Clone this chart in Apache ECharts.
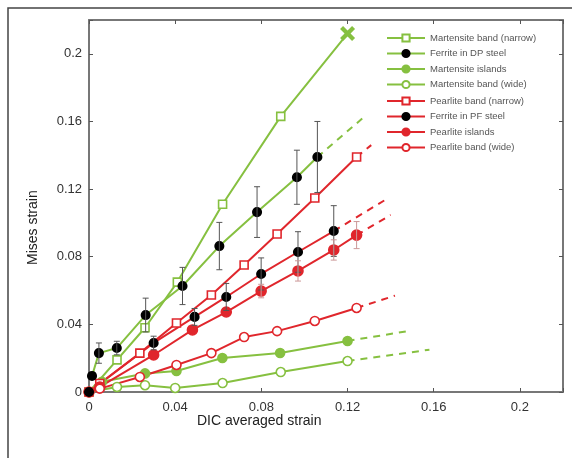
<!DOCTYPE html>
<html><head><meta charset="utf-8">
<script src="https://cdn.jsdelivr.net/npm/echarts@6/dist/echarts.min.js"></script>
<style>html,body{margin:0;padding:0;background:#fff}#c{width:572px;height:458px}</style>
</head><body><div id="c"></div>
<script>
// ---- data ----
const xTicks = [0, 0.04, 0.08, 0.12, 0.16, 0.2];
const yTicks = [0, 0.04, 0.08, 0.12, 0.16, 0.2];

const mbNarrowX = [0, 0.013, 0.026, 0.041, 0.062, 0.089, 0.12];
const mbNarrowY = [0, 0.019, 0.038, 0.065, 0.111, 0.163, 0.212];

const dpX = [0.0014, 0.0046, 0.0129, 0.0263, 0.0434, 0.0605, 0.078, 0.0965, 0.106];
const dpY = [0.0095, 0.023, 0.026, 0.0455, 0.0627, 0.0863, 0.1064, 0.127, 0.139];
const dpErr = [0, 0.006, 0.004, 0.010, 0.011, 0.014, 0.015, 0.016, 0.021];
const dpDash = [[0.106, 0.139], [0.128, 0.163]];

const miX = [0, 0.006, 0.026, 0.0406, 0.0619, 0.0887, 0.12];
const miY = [0, 0.006, 0.011, 0.0124, 0.0201, 0.0231, 0.0302];
const miDash = [[0.12, 0.0302], [0.148, 0.036]];

const mwX = [0, 0.013, 0.026, 0.040, 0.062, 0.089, 0.12];
const mwY = [0, 0.003, 0.004, 0.0024, 0.0053, 0.0118, 0.0183];
const mwDash = [[0.12, 0.0183], [0.158, 0.025]];

const pnX = [0, 0.005, 0.0236, 0.0406, 0.0568, 0.072, 0.0873, 0.1048, 0.1242];
const pnY = [0, 0.005, 0.023, 0.0408, 0.0574, 0.0751, 0.0934, 0.1147, 0.139];
const pnDash = [[0.1242, 0.139], [0.131, 0.146]];

const pfX = [0, 0.030, 0.049, 0.0637, 0.0799, 0.097, 0.1136];
const pfY = [0, 0.029, 0.0444, 0.0562, 0.0698, 0.0828, 0.0952];
const pfErr = [0, 0.004, 0.005, 0.008, 0.0095, 0.012, 0.015];
const pfDash = [[0.1136, 0.0952], [0.138, 0.114]];

const piX = [0, 0.005, 0.030, 0.048, 0.0637, 0.0799, 0.097, 0.1136, 0.1242];
const piY = [0, 0.003, 0.0219, 0.0367, 0.0473, 0.0597, 0.0716, 0.084, 0.0928];
const piErr = [0, 0, 0, 0, 0, 0.004, 0.006, 0.006, 0.008];
const piDash = [[0.1242, 0.0928], [0.140, 0.1047]];

const pwX = [0, 0.005, 0.0236, 0.0406, 0.0568, 0.072, 0.0873, 0.1048, 0.1242];
const pwY = [0, 0.002, 0.0089, 0.016, 0.023, 0.0325, 0.036, 0.042, 0.0497];
const pwDash = [[0.1242, 0.0497], [0.142, 0.057]];

const names = ['Martensite band (narrow)', 'Ferrite in DP steel', 'Martensite islands', 'Martensite band (wide)',
  'Pearlite band (narrow)', 'Ferrite in PF steel', 'Pearlite islands', 'Pearlite band (wide)'];

// ---- styles ----
const G = '#86c040', R = '#e0262c';
const FONT = 'Liberation Sans, Arial, sans-serif';
const zip = (xs, ys) => xs.map((x, i) => [x, ys[i]]);
const zip3 = (xs, ys, es) => xs.map((x, i) => [x, ys[i], es[i]]);
const X_PATH = 'path://M0,2 L2,0 L5,3 L8,0 L10,2 L7,5 L10,8 L8,10 L5,7 L2,10 L0,8 L3,5 Z';

function lineSeries(name, data, color, symbol, fill, size) {
  return {
    name, type: 'line', data, symbol, symbolSize: size, showSymbol: true,
    lineStyle: { color, width: 2 },
    itemStyle: { color: fill, borderColor: fill === '#000' ? '#000' : color, borderWidth: 1.6 },
    z: 3
  };
}
function dashSeries(data, color) {
  return { type: 'line', data, symbol: 'none', lineStyle: { color, width: 2, type: [7, 6] }, z: 2, silent: true };
}
function errSeries(data, color) {
  return {
    type: 'custom', data, z: 4, silent: true,
    encode: { x: 0, y: 1 },
    renderItem(params, api) {
      const x = api.value(0), y = api.value(1), e = api.value(2);
      if (!e) return null;
      const p1 = api.coord([x, y + e]), p2 = api.coord([x, y - e]);
      const w = 3;
      const st = { stroke: color, lineWidth: 1 };
      return { type: 'group', children: [
        { type: 'line', shape: { x1: p1[0], y1: p1[1], x2: p2[0], y2: p2[1] }, style: st },
        { type: 'line', shape: { x1: p1[0] - w, y1: p1[1], x2: p1[0] + w, y2: p1[1] }, style: st },
        { type: 'line', shape: { x1: p2[0] - w, y1: p2[1], x2: p2[0] + w, y2: p2[1] }, style: st }
      ]};
    }
  };
}

const mbData = zip(mbNarrowX, mbNarrowY).map((p, i, a) => i === a.length - 1
  ? { value: p, symbol: X_PATH, symbolSize: 15, itemStyle: { color: G, borderWidth: 0 } } : p);

const hideMax = v => (Math.abs(v - 0.22) < 1e-9 ? '' : String(+v.toFixed(2)));
const axisCommon = {
  type: 'value', min: 0, max: 0.22, interval: 0.04,
  splitLine: { show: false },
  axisLine: { onZero: false, lineStyle: { color: '#777', width: 2 } },
  axisTick: { inside: true, length: 4, lineStyle: { color: '#555', width: 1 } }
};

const legendCommon = {
  orient: 'vertical', left: 386, itemWidth: 38, itemHeight: 9, itemGap: 5.5,
  textStyle: { fontFamily: FONT, fontSize: 9.5, color: '#555' }, padding: 0
};

const chart = echarts.init(document.getElementById('c'), null, { renderer: 'canvas' });
chart.setOption({
  animation: false,
  backgroundColor: '#fff',
  grid: { left: 89, right: 9, top: 20, bottom: 66 },
  legend: [
    Object.assign({ top: 33, data: names.slice(0, 4) }, legendCommon),
    Object.assign({ top: 96, data: names.slice(4) }, legendCommon)
  ],
  xAxis: [
    Object.assign({}, axisCommon, { position: 'bottom',
      axisLabel: { formatter: hideMax, fontFamily: FONT, fontSize: 13, color: '#333', margin: 9 } }),
    Object.assign({}, axisCommon, { position: 'top', axisLabel: { show: false } })
  ],
  yAxis: [
    Object.assign({}, axisCommon, { position: 'left',
      axisLabel: { formatter: hideMax, fontFamily: FONT, fontSize: 13, color: '#333', margin: 7 } }),
    Object.assign({}, axisCommon, { position: 'right', axisLabel: { show: false } })
  ],
  graphic: [
    { type: 'rect', shape: { x: 8, y: 8, width: 700, height: 600 }, style: { fill: 'none', stroke: '#444', lineWidth: 1.5 }, silent: true },
    { type: 'text', left: 197, top: 414, style: { text: 'DIC averaged strain', fontFamily: FONT, fontSize: 14, fill: '#222' } },
    { type: 'text', x: 26, y: 265, rotation: Math.PI / 2, style: { text: 'Mises strain', fontFamily: FONT, fontSize: 14, fill: '#222' } }
  ],
  series: [
    dashSeries(dpDash, G), dashSeries(miDash, G), dashSeries(mwDash, G),
    dashSeries(pnDash, R), dashSeries(pfDash, R), dashSeries(piDash, R), dashSeries(pwDash, R),
    lineSeries(names[0], mbData, G, 'rect', '#fff', 8),
    lineSeries(names[2], zip(miX, miY), G, 'circle', G, 9),
    lineSeries(names[3], zip(mwX, mwY), G, 'circle', '#fff', 9),
    lineSeries(names[4], zip(pnX, pnY), R, 'rect', '#fff', 8),
    lineSeries(names[6], zip(piX, piY), R, 'circle', R, 10),
    lineSeries(names[7], zip(pwX, pwY), R, 'circle', '#fff', 9),
    errSeries(zip3(dpX, dpY, dpErr), '#555'),
    errSeries(zip3(pfX, pfY, pfErr), '#555'),
    errSeries(zip3(piX, piY, piErr), '#c99'),
    lineSeries(names[1], zip(dpX, dpY), G, 'circle', '#000', 8.5),
    lineSeries(names[5], zip(pfX, pfY), R, 'circle', '#000', 8.5)
  ]
});
</script></body></html>
